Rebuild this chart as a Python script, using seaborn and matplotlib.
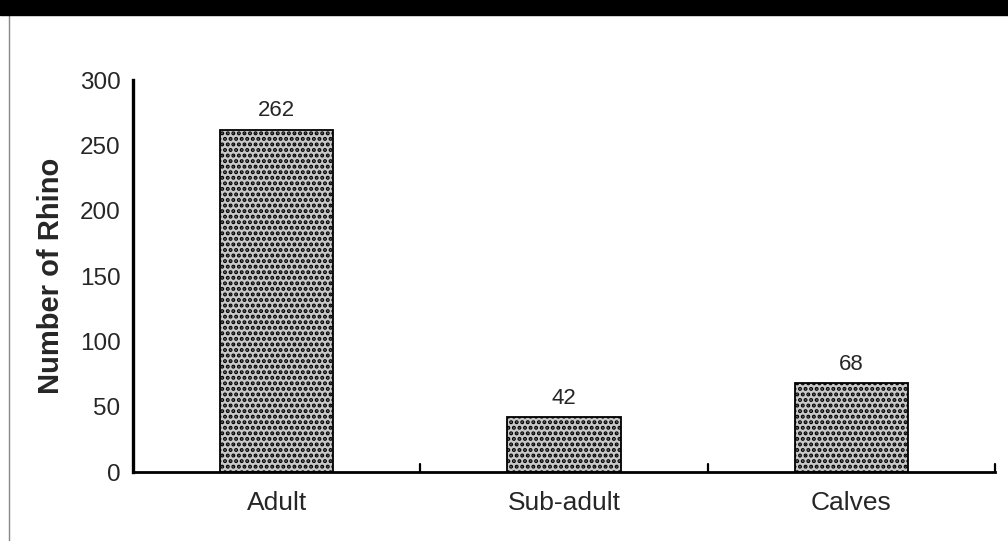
import numpy as np
import pandas as pd
import matplotlib
matplotlib.use("Agg")
import matplotlib.pyplot as plt
from matplotlib.lines import Line2D
from matplotlib.patches import Rectangle
import seaborn as sns

# data
age_class = ["Adult", "Sub-adult", "Calves"]
n_rhino = [262, 42, 68]

df = pd.DataFrame({"age": age_class, "n": n_rhino})

sns.set_style("white")
plt.rcParams['font.family'] = ['Liberation Sans', 'DejaVu Sans']
plt.rcParams['hatch.linewidth'] = 2.0

fig = plt.figure(figsize=(10.08, 5.41), dpi=100)
ax = fig.add_axes([0.132, 0.1275, 0.855, 0.7245])

sns.barplot(data=df, x="age", y="n", color="#c8c8c8", width=0.395,
            edgecolor="black", linewidth=1.3, ax=ax, saturation=1)
for p in ax.patches:
    p.set_hatch("...")

ax.bar_label(ax.containers[0], fmt="%d", padding=6, fontsize=16)

ax.set_xlim(-0.5, len(age_class) - 0.5)
ax.set_ylim(0, 300)
ax.set_yticks(np.arange(0, 301, 50))
ax.tick_params(axis="y", direction="in", length=5, width=1.6, labelsize=17.5, pad=9)
# x ticks sit on the category boundaries, pointing up
ax.set_xticks(np.arange(len(age_class)), age_class)
ax.tick_params(axis="x", length=0, labelsize=19, pad=14)
for b in np.arange(0.5, len(age_class), 1.0):
    ax.plot([b, b], [0, 6], color="black", lw=1.6, clip_on=False)

ax.set_xlabel("")
ax.set_ylabel("Number of Rhino", fontsize=21, fontweight="bold", labelpad=11)

for s in ["top", "right"]:
    ax.spines[s].set_visible(False)
ax.spines["left"].set_color("black")
ax.spines["left"].set_linewidth(2.4)
ax.spines["bottom"].set_color("black")
ax.spines["bottom"].set_linewidth(2.0)

# scan artefacts: dark band on top and a faint line at the left edge
fig.add_artist(Rectangle((0, 0.973), 1, 0.027, transform=fig.transFigure,
                         color="black", zorder=5))
fig.add_artist(Line2D([0.009, 0.009], [0.0, 0.973], transform=fig.transFigure,
                      color="#888888", lw=1.0))

fig.savefig("out.png", dpi=100)
